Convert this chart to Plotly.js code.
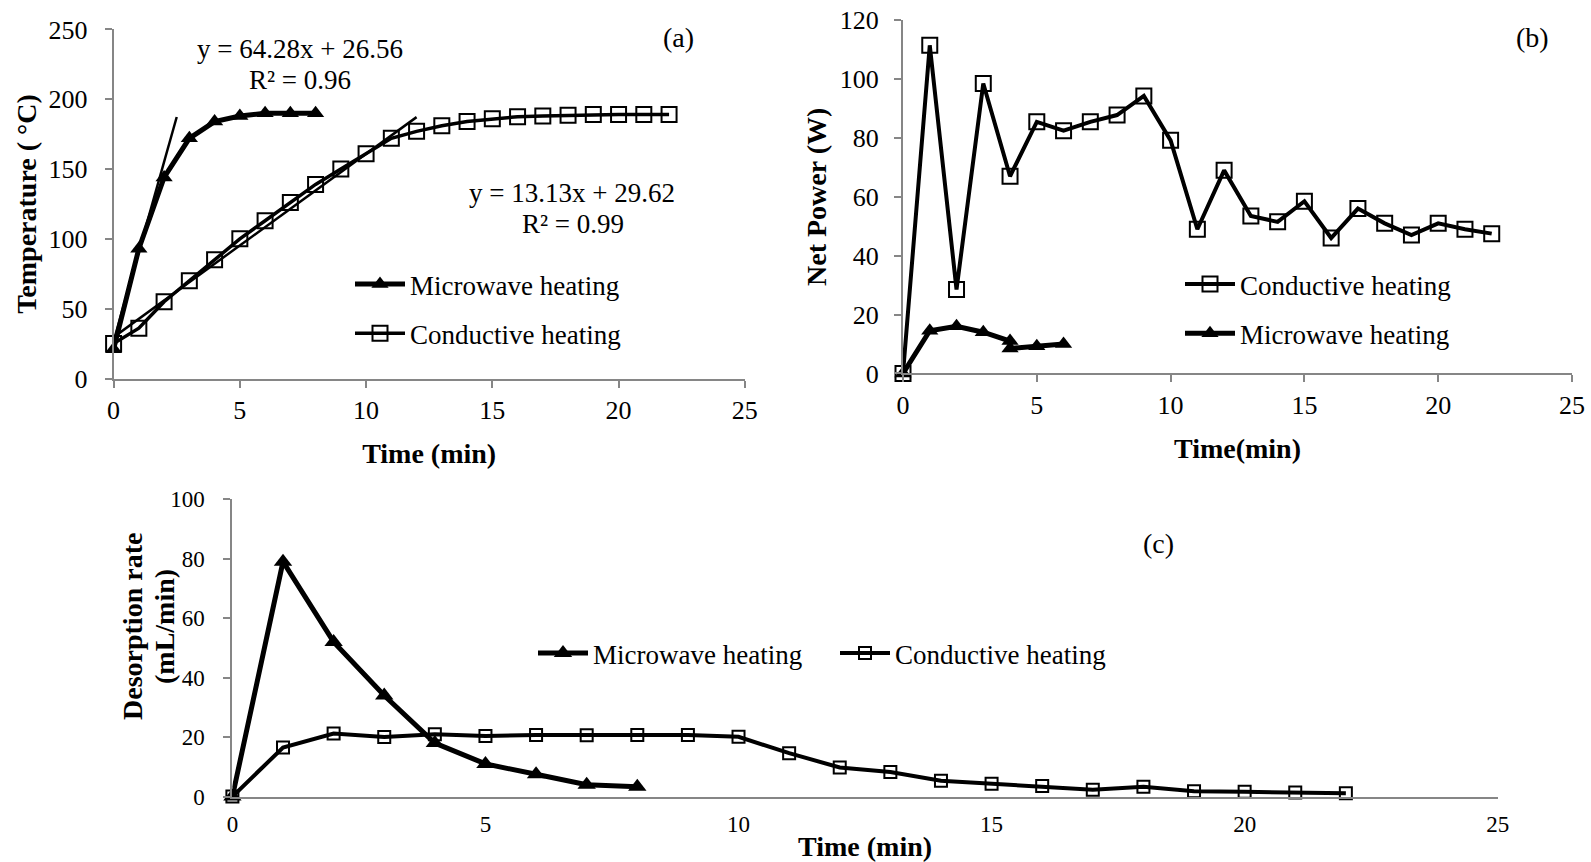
<!DOCTYPE html>
<html>
<head>
<meta charset="utf-8">
<script src="https://cdn.plot.ly/plotly-3.0.1.min.js"></script>
<style>
  html, body { margin: 0; padding: 0; background: #fff; }
  #chart { width: 1591px; height: 862px; }
</style>
</head>
<body>
<div id="chart"></div>
<script>
// ---------- Panel (a): Temperature ----------
const timeMwA = [0, 1, 2, 3, 4, 5, 6, 7, 8];
const tempMwA = [21, 93, 144, 172, 184, 188, 190, 190, 190];
const timeCdA = [0, 1, 2, 3, 4, 5, 6, 7, 8, 9, 10, 11, 12, 13, 14, 15, 16, 17, 18, 19, 20, 21, 22];
const tempCdA = [25, 36, 55, 70, 85, 100, 113, 126, 139, 150, 161, 172, 177, 181, 184, 186, 187.5, 188, 188.5, 189, 189, 189, 189];
// Linear trendlines (Excel): slope, intercept, x-extent
const trendMw = { slope: 64.28, intercept: 26.56, x: [0, 2.5] };
const trendCd = { slope: 13.13, intercept: 29.62, x: [0, 12] };
const eqMwText = ["y = 64.28x + 26.56", "R² = 0.96"];
const eqCdText = ["y = 13.13x + 29.62", "R² = 0.99"];

// ---------- Panel (b): Net power ----------
const timeCdB = [0, 1, 2, 3, 4, 5, 6, 7, 8, 9, 10, 11, 12, 13, 14, 15, 16, 17, 18, 19, 20, 21, 22];
const powerCdB = [0, 111.5, 28.5, 98.5, 67, 85.5, 82.5, 85.5, 87.8, 94.3, 79.2, 49, 69, 53.5, 51.5, 58.5, 46, 56, 51, 47, 51, 49, 47.5];
const timeMwB = [0, 1, 2, 3, 4, 4, 5, 6];
const powerMwB = [0, 14.5, 16, 14, 11, 8.5, 9.2, 10];

// ---------- Panel (c): Desorption rate ----------
const timeMwC = [0, 1, 2, 3, 4, 5, 6, 7, 8];
const rateMwC = [0, 79, 52, 34, 18, 11, 7.5, 4, 3.3];
const timeCdC = [0, 1, 2, 3, 4, 5, 6, 7, 8, 9, 10, 11, 12, 13, 14, 15, 16, 17, 18, 19, 20, 21, 22];
const rateCdC = [0, 16.5, 21.2, 20, 21, 20.4, 20.7, 20.6, 20.7, 20.7, 20.1, 14.6, 9.8, 8.3, 5.3, 4.3, 3.6, 2.3, 3.3, 1.8, 1.6, 1.4, 1.1];

const seriesNames = { mw: "Microwave heating", cd: "Conductive heating" };
const axisTitles = {
  ax: "Time (min)", ay: "Temperature ( °C)",
  bx: "Time(min)", by: "Net Power (W)",
  cx: "Time (min)", cy1: "Desorption rate", cy2: "(mL/min)"
};
const panelLabels = ["(a)", "(b)", "(c)"];

// ---------- styling ----------
const FONT = "Liberation Serif, Times New Roman, serif";
const AXIS_GREY = "#868686";
const W = 1591, H = 862;
const px = v => v / W;
const py = v => 1 - v / H;

const mwMarker = { symbol: "triangle-up", size: 15, color: "#000" };
const cdMarker = { symbol: "square-open", size: 15, color: "#000", line: { width: 2, color: "#000" } };

function trendY(t) { return t.x.map(v => t.slope * v + t.intercept); }

const traces = [
  // (a)
  { x: timeMwA, y: tempMwA, name: seriesNames.mw, mode: "lines+markers", xaxis: "x", yaxis: "y",
    line: { color: "#000", width: 5 }, marker: mwMarker, legend: "legend", legendgroup: "amw", cliponaxis: false },
  { x: timeCdA, y: tempCdA, name: seriesNames.cd, mode: "lines+markers", xaxis: "x", yaxis: "y",
    line: { color: "#000", width: 3.5 }, marker: cdMarker, legend: "legend", legendgroup: "acd", cliponaxis: false },
  { x: trendMw.x, y: trendY(trendMw), mode: "lines", xaxis: "x", yaxis: "y", showlegend: false,
    line: { color: "#000", width: 2.5 }, hoverinfo: "skip" },
  { x: trendCd.x, y: trendY(trendCd), mode: "lines", xaxis: "x", yaxis: "y", showlegend: false,
    line: { color: "#000", width: 2.5 }, hoverinfo: "skip" },
  // (b)
  { x: timeCdB, y: powerCdB, name: seriesNames.cd, mode: "lines+markers", xaxis: "x2", yaxis: "y2",
    line: { color: "#000", width: 4 }, marker: cdMarker, legend: "legend2", legendgroup: "bcd", cliponaxis: false },
  { x: timeMwB, y: powerMwB, name: seriesNames.mw, mode: "lines+markers", xaxis: "x2", yaxis: "y2",
    line: { color: "#000", width: 5 }, marker: mwMarker, legend: "legend2", legendgroup: "bmw", cliponaxis: false },
  // (c)
  { x: timeMwC, y: rateMwC, name: seriesNames.mw, mode: "lines+markers", xaxis: "x3", yaxis: "y3",
    line: { color: "#000", width: 5 }, marker: { symbol: "triangle-up", size: 16, color: "#000" },
    legend: "legend3", cliponaxis: false },
  { x: timeCdC, y: rateCdC, name: seriesNames.cd, mode: "lines+markers", xaxis: "x3", yaxis: "y3",
    line: { color: "#000", width: 4 }, marker: { symbol: "square-open", size: 12, color: "#000", line: { width: 2, color: "#000" } },
    legend: "legend3", cliponaxis: false }
];

function baseAxis(extra) {
  return Object.assign({
    showline: true, linecolor: AXIS_GREY, linewidth: 2,
    ticks: "outside", ticklen: 7, tickwidth: 2, tickcolor: AXIS_GREY,
    showgrid: false, zeroline: false,
    tickfont: { family: FONT, size: 26, color: "#000" }
  }, extra);
}
function axTitle(text, standoff, size) {
  return { text: text, standoff: standoff, font: { family: FONT, size: size || 28, color: "#000", weight: "bold" } };
}

const legendFont = { family: FONT, size: 27, color: "#000" };

function ann(text, x, y, size, extra) {
  return Object.assign({ text: text, x: px(x), y: py(y), xref: "paper", yref: "paper", showarrow: false,
    xanchor: "center", yanchor: "middle", font: { family: FONT, size: size, color: "#000" } }, extra || {});
}

const layout = {
  width: W, height: H,
  paper_bgcolor: "#fff", plot_bgcolor: "rgba(0,0,0,0)",
  margin: { l: 0, r: 0, t: 0, b: 0 },
  font: { family: FONT, color: "#000" },
  xaxis: baseAxis({ domain: [px(113.6), px(744.8)], anchor: "y", range: [0, 25], dtick: 5, ticklabelstandoff: 0,
    title: axTitle(axisTitles.ax, 20) }),
  yaxis: baseAxis({ domain: [py(378.5), py(29.4)], anchor: "x", range: [0, 250], dtick: 50, ticklabelstandoff: 12,
    title: axTitle(axisTitles.ay, 4) }),
  xaxis2: baseAxis({ domain: [px(903), px(1572)], anchor: "y2", range: [0, 25], dtick: 5, ticklabelstandoff: 0,
    title: axTitle(axisTitles.bx, 20) }),
  yaxis2: baseAxis({ domain: [py(373.4), py(20.3)], anchor: "x2", range: [0, 120], dtick: 20, ticklabelstandoff: 10,
    title: axTitle(axisTitles.by, 5) }),
  xaxis3: baseAxis({ domain: [px(232.4), px(1497.7)], anchor: "y3", range: [0, 25], dtick: 5, ticks: "", ticklabelstandoff: 6,
    tickfont: { family: FONT, size: 23, color: "#000" }, title: axTitle(axisTitles.cx, 0) }),
  yaxis3: baseAxis({ domain: [py(796.6), py(499.2)], anchor: "x3", range: [0, 100], dtick: 20, ticklabelstandoff: 14,
    tickfont: { family: FONT, size: 23, color: "#000" } }),
  showlegend: true,
  legend: { x: px(350), y: py(260), xanchor: "left", yanchor: "top", bgcolor: "rgba(0,0,0,0)",
    font: legendFont, traceorder: "grouped", tracegroupgap: 11, itemwidth: 50 },
  legend2: { x: px(1180), y: py(260), xanchor: "left", yanchor: "top", bgcolor: "rgba(0,0,0,0)",
    font: legendFont, traceorder: "grouped", tracegroupgap: 11, itemwidth: 50 },
  legend3: { x: px(533), y: py(629), xanchor: "left", yanchor: "top", bgcolor: "rgba(0,0,0,0)",
    orientation: "h", font: legendFont, itemwidth: 50, entrywidth: 237, entrywidthmode: "pixels" },
  annotations: [
    ann(panelLabels[0], 678, 38, 28),
    ann(panelLabels[1], 1532, 38, 28),
    ann(panelLabels[2], 1158, 543, 28),
    ann(eqMwText[0], 300, 49, 27),
    ann(eqMwText[1], 300, 80, 27),
    ann(eqCdText[0], 572, 193, 27),
    ann(eqCdText[1], 573, 224, 27),
    ann("<b>" + axisTitles.cy1 + "</b>", 132, 627, 28, { textangle: -90 }),
    ann("<b>" + axisTitles.cy2 + "</b>", 164, 627, 28, { textangle: -90 })
  ]
};

Plotly.newPlot("chart", traces, layout, { displayModeBar: false, staticPlot: true });
</script>
</body>
</html>
